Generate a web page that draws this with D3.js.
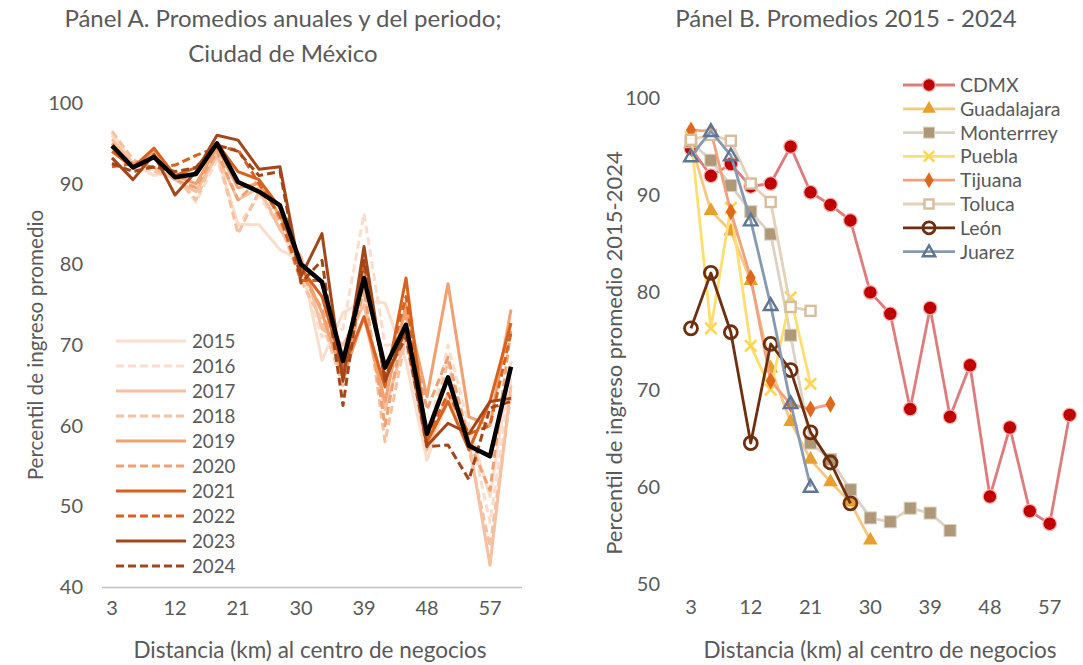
<!DOCTYPE html>
<html><head><meta charset="utf-8">
<script src="https://cdn.jsdelivr.net/npm/d3@7"></script>
<style>
body{margin:0;background:#fff;}
text{font-family:Lato,"Open Sans",sans-serif;fill:#595959;}
</style></head>
<body>
<svg id="c" width="1083" height="665"></svg>
<script>
// ---------- DATA ----------
const distances = [3,6,9,12,15,18,21,24,27,30,33,36,39,42,45,48,51,54,57,60];
const tickLabelsX = [3,12,21,30,39,48,57];
const ticksA = [40,50,60,70,80,90,100];
const ticksB = [50,60,70,80,90,100];

const years = ["2015","2016","2017","2018","2019","2020","2021","2022","2023","2024"];
const y2015 = [96.3,92.5,91.0,91.5,89.5,93.5,85.0,84.9,81.8,80.5,68.1,74.0,75.5,75.2,68.0,55.7,63.5,60.0,51.2,68.0];
const y2016 = [96.0,92.0,91.5,91.0,87.7,93.0,84.8,88.5,84.5,79.0,71.0,72.0,86.3,70.0,70.0,58.0,70.0,60.0,48.0,66.0];
const y2017 = [95.5,92.5,92.0,90.5,89.0,93.5,88.0,89.5,84.3,81.0,72.0,70.0,75.0,62.0,71.0,57.0,64.0,58.0,42.7,65.0];
const y2018 = [96.5,93.0,91.5,91.0,88.0,94.0,83.8,89.0,85.0,78.0,73.0,65.0,77.0,58.0,71.0,57.5,68.0,57.0,45.0,64.0];
const y2019 = [95.0,92.0,94.0,91.0,90.0,94.5,89.5,90.0,86.0,80.0,74.0,66.0,73.5,63.0,75.0,63.6,77.6,61.1,60.0,74.4];
const y2020 = [94.5,92.5,93.5,90.5,89.5,94.0,88.0,90.5,85.5,79.0,74.5,66.0,77.0,60.0,74.0,62.0,68.5,58.0,52.0,72.0];
const y2021 = [94.0,92.0,94.4,91.0,92.0,95.0,91.5,90.5,87.0,79.5,76.0,67.0,73.5,64.8,78.3,58.0,63.0,57.0,63.0,72.7];
const y2022 = [92.1,92.5,92.0,92.3,93.5,94.5,94.2,90.0,86.0,78.0,78.0,66.0,80.0,66.0,76.0,58.5,64.0,59.0,60.0,71.5];
const y2023 = [93.2,90.5,93.6,88.6,91.5,96.0,95.4,91.8,92.1,78.5,83.8,65.5,82.2,65.5,72.0,57.5,60.3,59.0,63.0,63.4];
const y2024 = [92.5,91.5,92.1,91.5,92.0,94.8,94.0,91.0,91.5,77.7,80.5,62.5,80.5,66.0,71.0,57.4,57.6,53.3,62.2,63.0];
const periodAvg = [94.7,92.0,93.3,90.8,91.2,95.0,90.2,89.0,87.3,80.0,77.8,68.0,78.3,67.2,72.5,59.0,66.0,57.5,56.2,67.3];

const cities = ["CDMX","Guadalajara","Monterrrey","Puebla","Tijuana","Toluca","León","Juarez"];
const cdmx        = [94.8,92.0,93.2,90.9,91.2,95.0,90.3,89.0,87.4,80.0,77.8,68.0,78.4,67.2,72.5,59.0,66.1,57.5,56.2,67.4];
const guadalajara = [95.3,88.4,86.3,81.2,72.2,66.7,62.8,60.5,58.4,54.5];
const monterrey   = [95.5,93.6,91.0,88.3,86.0,75.6,64.5,62.8,59.7,56.8,56.4,57.8,57.3,55.5];
const puebla      = [96.0,76.3,88.7,74.5,70.0,79.5,70.6];
const tijuana     = [96.7,96.6,88.3,81.5,70.9,68.5,68.0,68.5];
const toluca      = [95.7,96.2,95.6,91.2,89.3,78.5,78.1];
const leon        = [76.3,82.0,75.9,64.5,74.7,72.0,65.6,62.5,58.3];
const juarez      = [94.0,96.6,94.1,87.4,78.7,68.6,60.0];

// ---------- STYLES ----------
const yearColors = ["#FBDDCB","#FBDDCB","#F7C0A0","#F7C0A0","#F1A070","#F1A070","#D8611E","#D8611E","#A3461A","#A3461A"];
const yearDashed = [false,true,false,true,false,true,false,true,false,true];
const yearSeries = [y2015,y2016,y2017,y2018,y2019,y2020,y2021,y2022,y2023,y2024];

const citySeries = [cdmx,guadalajara,monterrey,puebla,tijuana,toluca,leon,juarez];
const cityLine   = ["#E07B7B","#F6C983","#DCD1C3","#FFDE70","#F0A27F","#E6D0B7","#6E2F0E","#8699B2"];
const cityMark   = ["#C00000","#E8A02C","#AE9878","#FFD54F","#E0681E","#D9BC9A","#6E2F0E","#5F7692"];
const cityShape  = ["circle","triangle","square","x","diamond","osquare","ocircle","otriangle"];

const svg = d3.select("#c");
const tickFont = "20px";

// ---------- PANEL A ----------
const xA = d3.scaleBand().domain(distances).range([101.5,521.5]).padding(0);
const yA = d3.scaleLinear().domain([40,100]).range([587,103]);
const cx = (s,d)=> s(d)+s.bandwidth()/2;

svg.append("text").attr("x",283).attr("y",27).attr("text-anchor","middle").style("font-size","24px").text("Pánel A. Promedios anuales y del periodo;");
svg.append("text").attr("x",283).attr("y",62).attr("text-anchor","middle").style("font-size","24px").text("Ciudad de México");

const gA = svg.append("g");
const gyA = gA.append("g").attr("transform","translate(83,0)").call(d3.axisLeft(yA).tickValues(ticksA).tickSize(0).tickPadding(0));
gyA.select(".domain").remove();
gyA.selectAll("text").style("font-size",tickFont).style("fill","#595959").style("font-family","Lato");
const gxA = gA.append("g").attr("transform","translate(0,587)").call(d3.axisBottom(xA).tickValues(tickLabelsX).tickSize(0).tickPadding(14));
gxA.select(".domain").attr("stroke","#BFBFBF").attr("stroke-width",1.5);
gxA.selectAll("text").style("font-size",tickFont).style("fill","#595959").style("font-family","Lato");

gA.append("text").attr("transform","translate(43,345) rotate(-90)").attr("text-anchor","middle").style("font-size","20.7px").text("Percentil de ingreso promedio");
gA.append("text").attr("x",310).attr("y",658).attr("text-anchor","middle").style("font-size","22.5px").text("Distancia (km) al centro de negocios");

const lineA = d3.line().x((d,i)=>cx(xA,distances[i])).y(d=>yA(d));
yearSeries.forEach((s,k)=>{
  gA.append("path").datum(s).attr("d",lineA).attr("fill","none")
    .attr("stroke",yearColors[k]).attr("stroke-width",3)
    .attr("stroke-dasharray",yearDashed[k]?"8,4":null).attr("stroke-linejoin","round");
});
gA.append("path").datum(periodAvg).attr("d",lineA).attr("fill","none")
  .attr("stroke","#000").attr("stroke-width",4.5).attr("stroke-linejoin","round");

years.forEach((yr,k)=>{
  const yy = 341 + k*25;
  gA.append("line").attr("x1",116).attr("x2",186).attr("y1",yy).attr("y2",yy)
    .attr("stroke",yearColors[k]).attr("stroke-width",3).attr("stroke-dasharray",yearDashed[k]?"8,4":null);
  gA.append("text").attr("x",192).attr("y",yy+7).style("font-size","18.7px").text(yr);
});

// ---------- PANEL B ----------
const xB = d3.scaleBand().domain(distances).range([681,1079.6]).padding(0);
const yB = d3.scaleLinear().domain([50,100]).range([584,98]);

svg.append("text").attr("x",846).attr("y",27).attr("text-anchor","middle").style("font-size","24px").text("Pánel B. Promedios 2015 - 2024");

const gB = svg.append("g");
const gyB = gB.append("g").attr("transform","translate(660,0)").call(d3.axisLeft(yB).tickValues(ticksB).tickSize(0).tickPadding(0));
gyB.select(".domain").remove();
gyB.selectAll("text").style("font-size",tickFont).style("fill","#595959").style("font-family","Lato");
const gxB = gB.append("g").attr("transform","translate(0,584)").call(d3.axisBottom(xB).tickValues(tickLabelsX).tickSize(0).tickPadding(16));
gxB.select(".domain").remove();
gxB.selectAll("text").style("font-size",tickFont).style("fill","#595959").style("font-family","Lato");

gB.append("text").attr("transform","translate(622,353) rotate(-90)").attr("text-anchor","middle").style("font-size","22px").text("Percentil de ingreso promedio 2015-2024");
gB.append("text").attr("x",880).attr("y",658).attr("text-anchor","middle").style("font-size","22.5px").text("Distancia (km) al centro de negocios");

function marker(g,shape,x,y,k,size){
  const fill = cityMark[k];
  const s = size||6;
  if(shape==="circle"){
    g.append("circle").attr("cx",x).attr("cy",y).attr("r",s+0.8).attr("fill",fill).attr("stroke","#F3B0B0").attr("stroke-width",1.2);
  } else if(shape==="triangle"){
    g.append("path").attr("transform",`translate(${x},${y})`).attr("d",d3.symbol(d3.symbolTriangle,s*s*2.6)()).attr("fill",fill);
  } else if(shape==="square"){
    g.append("rect").attr("x",x-s).attr("y",y-s).attr("width",2*s).attr("height",2*s).attr("fill",fill).attr("stroke","#D9CDBC").attr("stroke-width",1);
  } else if(shape==="x"){
    const r=s*0.95;
    g.append("path").attr("d",`M${x-r},${y-r}L${x+r},${y+r}M${x-r},${y+r}L${x+r},${y-r}`).attr("stroke",fill).attr("stroke-width",2.6);
  } else if(shape==="diamond"){
    g.append("path").attr("transform",`translate(${x},${y})`).attr("d",d3.symbol(d3.symbolDiamond,s*s*2.4)()).attr("fill",fill);
  } else if(shape==="osquare"){
    g.append("rect").attr("x",x-s+1).attr("y",y-s+1).attr("width",2*s-2).attr("height",2*s-2).attr("fill","#fff").attr("stroke",fill).attr("stroke-width",2.4);
  } else if(shape==="ocircle"){
    g.append("circle").attr("cx",x).attr("cy",y).attr("r",s+0.5).attr("fill","none").attr("stroke",fill).attr("stroke-width",2.8);
  } else if(shape==="otriangle"){
    g.append("path").attr("transform",`translate(${x},${y+1})`).attr("d",d3.symbol(d3.symbolTriangle,s*s*2.2)()).attr("fill","none").attr("stroke",fill).attr("stroke-width",2.4);
  }
}

const lineB = d3.line().x((d,i)=>cx(xB,distances[i])).y(d=>yB(d));
[0,1,2,3,4,5,6,7].forEach(k=>{
  const s = citySeries[k];
  const g = gB.append("g");
  g.append("path").datum(s).attr("d",lineB).attr("fill","none").attr("stroke",cityLine[k]).attr("stroke-width",2.8).attr("stroke-linejoin","round");
  s.forEach((v,i)=>marker(g,cityShape[k],cx(xB,distances[i]),yB(v),k,6));
});

cities.forEach((c,k)=>{
  const yy = 85 + k*23.8;
  gB.append("line").attr("x1",903).attr("x2",955).attr("y1",yy).attr("y2",yy).attr("stroke",cityLine[k]).attr("stroke-width",2.8);
  marker(gB,cityShape[k],929,yy,k,5.5);
  gB.append("text").attr("x",960).attr("y",yy+7).style("font-size","19.5px").text(c);
});
</script>
</body></html>
